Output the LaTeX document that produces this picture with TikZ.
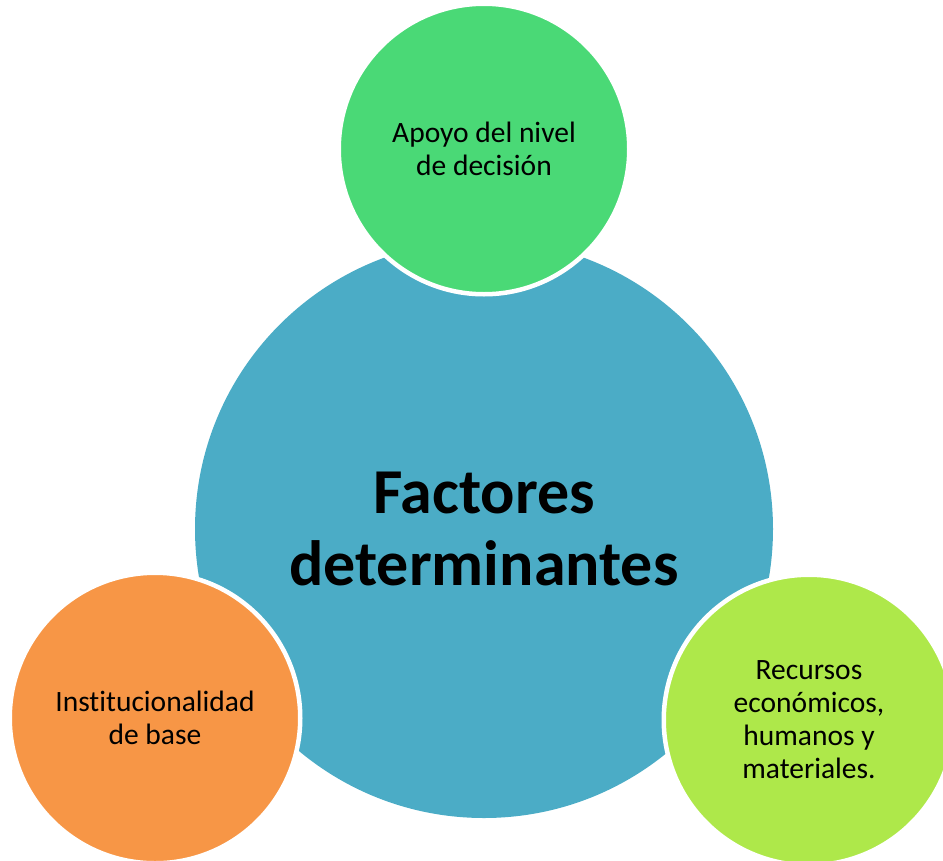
\documentclass[tikz,border=0pt]{standalone}
\usepackage{fontspec}
\setmainfont{Carlito}[Ligatures=NoCommon]
\definecolor{bigblue}{HTML}{4BACC6}
\definecolor{topgreen}{HTML}{4AD976}
\definecolor{orangec}{HTML}{F79646}
\definecolor{limec}{HTML}{AEE84A}
\begin{document}
\begin{tikzpicture}[x=1pt,y=-1pt,
  bigc/.style={circle, fill=bigblue, minimum size=578pt, inner sep=0pt,
    font=\fontsize{64}{72}\selectfont\bfseries, align=center, text=black},
  smallc/.style={circle, draw=white, line width=4.5pt, minimum size=290.5pt,
    inner sep=0pt, font=\fontsize{29.5}{33}\selectfont, align=center, text=black}]
\useasboundingbox (0,0) rectangle (943,860);
\clip (0,0) rectangle (943,860);
\node[bigc] (core) at (484,529) {Factores\\determinantes};
\node[smallc, fill=topgreen] (top) at (484,149) {Apoyo del nivel\\de decisión};
\node[smallc, fill=orangec] (left) at (155,718) {Institucionalidad\\de base};
\node[smallc, fill=limec] (right) at (809,720) {Recursos\\económicos,\\humanos y\\materiales.};
\end{tikzpicture}
\end{document}
